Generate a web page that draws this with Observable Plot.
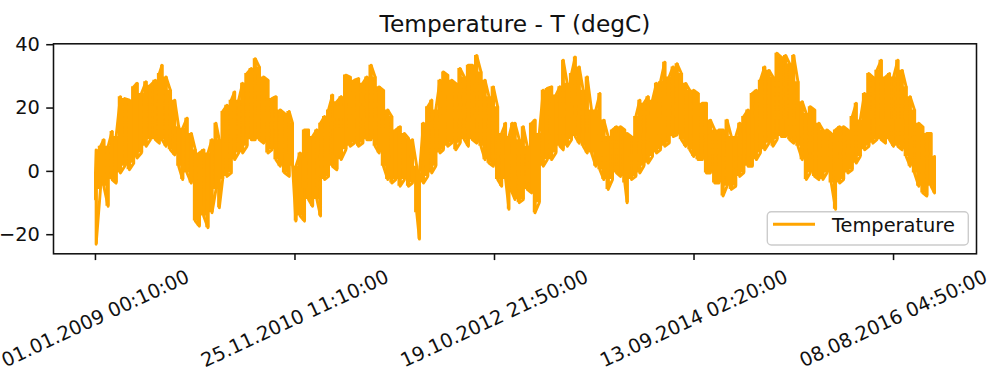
<!DOCTYPE html>
<html>
<head>
<meta charset="utf-8">
<script src="https://cdn.jsdelivr.net/npm/d3@7"></script>
<script src="https://cdn.jsdelivr.net/npm/@observablehq/plot@0.6"></script>
<style>
  html, body { margin: 0; padding: 0; background: white; }
  #chart { position: relative; width: 988px; height: 380px; }
  #legend { position: absolute; left: 766px; top: 210px; }
</style>
</head>
<body>
<div id="chart"></div>
<script>
const title = "Temperature - T (degC)";
const seriesName = "Temperature";

// x tick positions (sample index) and their labels
const xTicks = [0, 100000, 200000, 300000, 400000];
const xTickLabels = ["01.01.2009 00:10:00", "25.11.2010 11:10:00", "19.10.2012 21:50:00", "13.09.2014 02:20:00", "08.08.2016 04:50:00"];
const yTicks = [-20, 0, 20, 40];

// Envelope of the dense 10-minute temperature series:
// sample index, local maximum and local minimum (degC)
const sampleIdx = [0, 334, 2503, 4172, 6341, 8344, 10346, 12515, 14685, 17021,
  19190, 20859, 23028, 25364, 27534, 30037, 32039, 33374, 35376, 37546,
  39715, 41718, 43720, 45889, 48059, 50061, 52063, 54233, 56402, 58405,
  60407, 62076, 63744, 65914, 68083, 69752, 71754, 73757, 75926, 78095,
  80098, 82100, 84269, 86439, 88441, 90444, 92613, 94782, 97118, 98787,
  100456, 102625, 104794, 106797, 108799, 110969, 112804, 114807, 116809, 118811,
  120981, 123150, 125486, 127656, 129825, 131827, 133997, 135999, 138168, 140171,
  142173, 144343, 146512, 148514, 150517, 152686, 154855, 156858, 158860, 161030,
  162365, 164367, 166537, 168539, 170541, 172711, 174380, 176549, 178551, 180554,
  182723, 184892, 186894, 188897, 191066, 193235, 195238, 197240, 199410, 201579,
  203581, 205584, 207253, 208922,
  210253, 212422, 214425, 216427, 218597, 220265, 222435, 224437, 226439, 228609,
  230778, 232781, 234449, 236452, 238621, 240457, 242459, 244461, 246464, 248633,
  250802, 252805, 254807, 256977, 259146, 261148, 263151, 265320, 266488, 268658,
  270827, 272829, 274832, 277001, 279170, 281173, 283175, 285345, 287514, 289516,
  291519, 293688, 295857, 297860, 299862, 302032, 304201, 306203, 308206, 310375,
  312544, 314547, 316549, 318719, 320888, 322890, 324893, 327062, 329231, 331234,
  333236, 335406, 337575, 339577, 341580, 343749, 345918, 347921, 349923, 352093,
  354262, 356264, 358267, 360436, 362605, 364608, 366610, 368780, 370949, 372951,
  374954, 377123, 379292, 381295, 383297, 385467, 387636, 389638, 391641, 393810,
  395979, 397982, 399984, 402154, 404323, 406325, 408328, 410497, 412666, 414669,
  416671, 418841, 420550];

const tHigh = [-0.5, 6.8, 7.9, 10.0, 7.9, 12.6, 11.0, 23.6, 23.0, 22.5,
  26.7, 27.8, 24.6, 28.3, 27.2, 28.8, 30.9, 33.5, 29.8, 25.6,
  22.5, 14.1, 13.6, 16.8, 12.0, 6.8, 5.8, 6.8, 5.8, 10.0,
  15.2, 10.0, 18.9, 20.9, 22.5, 25.1, 22.5, 27.8, 30.9, 32.5,
  35.6, 33.0, 29.8, 28.8, 23.0, 23.6, 19.4, 18.3, 18.9, 15.2,
  1.6, 5.8, 13.1, 13.1, 11.0, 13.1, 15.2, 17.3, 19.4, 24.1,
  22.0, 23.6, 30.4, 29.8, 28.8, 29.3, 27.8, 29.8, 33.5, 29.8,
  26.7, 25.6, 19.4, 17.3, 13.1, 14.1, 12.0, 10.5, 10.0, 1.6,
  -0.5, 15.2, 20.4, 22.5, 19.4, 28.8, 31.4, 30.4, 28.8, 27.8,
  32.5, 29.8, 33.5, 33.5, 36.6, 31.4, 28.8, 23.6, 26.7, 20.4,
  12.0, 15.2, 11.0, 15.2,
  15.2, 10.0, 14.1, 7.9, 15.2, 16.2, 12.0, 25.6, 26.2, 26.7,
  24.1, 26.7, 35.1, 27.8, 30.9, 36.1, 33.0, 25.6, 29.8, 19.4,
  19.4, 24.6, 16.2, 11.0, 13.1, 14.1, 14.1, 13.1, 12.0, 11.0,
  17.3, 22.5, 21.5, 23.6, 22.5, 27.8, 28.3, 34.5, 29.8, 33.0,
  34.0, 30.9, 27.8, 25.6, 25.6, 24.6, 21.5, 21.5, 16.2, 13.1,
  13.1, 13.1, 16.2, 11.0, 11.0, 15.2, 17.3, 19.4, 24.6, 25.6,
  28.8, 33.0, 31.9, 29.8, 37.3, 36.1, 36.6, 34.0, 36.6, 28.3,
  22.0, 18.3, 20.4, 19.4, 15.2, 13.1, 13.1, 12.0, 13.1, 14.1,
  14.1, 13.1, 17.3, 21.5, 16.2, 24.6, 30.9, 29.8, 31.9, 35.1,
  29.8, 30.9, 29.8, 35.1, 31.9, 26.7, 23.6, 19.4, 15.2, 14.1,
  12.0, 12.0, 4.7];

const tLow = [-8.9, -23.0, -5.7, -4.7, -11.0, -2.6, -3.7, -0.5, 1.6, 0.5,
  2.6, 4.2, 5.8, 7.9, 10.0, 10.0, 8.9, 10.0, 7.9, 6.8,
  5.2, 1.6, -2.6, -0.5, -3.7, -15.7, -17.3, -14.1, -17.8, -13.1,
  -5.7, -11.5, -2.6, -1.6, -0.5, 3.7, 5.8, 5.8, 7.9, 10.0,
  10.0, 10.0, 8.9, 5.8, 6.8, 3.7, 1.6, -0.5, -1.6, 1.6,
  -15.7, -14.1, -15.7, -8.9, -11.0, -8.9, -14.1, -2.6, -1.6, 1.6,
  0.5, 3.7, 6.8, 7.9, 8.9, 7.9, 8.9, 10.0, 10.0, 7.9,
  5.8, 1.6, -2.6, -3.7, -2.6, -4.7, -2.6, -4.7, -3.7, -13.1,
  -21.4, -3.7, -1.6, -0.5, 1.6, 5.8, 6.8, 7.9, 8.9, 6.8,
  8.9, 10.0, 7.9, 10.0, 8.9, 7.9, 3.7, 2.6, 1.6, -2.6,
  -4.7, -2.6, -12.0, -6.8,
  -8.9, -9.9, -8.9, -5.7, -6.8, -13.1, -9.9, 1.6, 3.7, 3.7,
  5.8, 7.9, 6.8, 7.9, 10.0, 11.0, 8.9, 7.9, 5.8, 5.8,
  1.6, 0.5, -2.6, -5.7, -2.6, -0.5, -1.6, -3.7, -9.9, -2.6,
  -1.6, -0.5, 1.6, 2.6, 4.7, 5.8, 6.8, 7.9, 8.9, 11.0,
  11.5, 10.0, 7.9, 6.8, 4.7, 3.7, 3.7, -0.5, -0.5, -3.7,
  -3.7, -7.8, -4.7, -5.7, -4.7, -1.6, -0.5, 1.6, 1.6, 3.7,
  5.8, 6.8, 8.9, 7.9, 10.0, 11.0, 11.0, 10.0, 8.9, 7.9,
  3.7, -2.6, -0.5, -1.6, -2.6, -2.6, -0.5, -3.7, -12.0, -3.7,
  -2.6, -0.5, 0.5, 2.6, 4.7, 6.8, 7.9, 8.9, 10.0, 10.0,
  8.9, 10.0, 7.9, 7.9, 6.8, 4.7, 1.6, -0.5, -4.7, -6.8,
  -7.8, -4.7, -6.8];

const rows = sampleIdx.map((x, i) => ({x, hi: tHigh[i], lo: tLow[i]}));
// a single polyline that sweeps between the local minimum and maximum
const zig = rows.flatMap((r, i) => i % 2 === 0
  ? [{x: r.x, y: r.lo}, {x: r.x, y: r.hi}]
  : [{x: r.x, y: r.hi}, {x: r.x, y: r.lo}]);

const fmtY = d => d < 0 ? "\u2212" + Math.abs(d) : String(d);
const n = 420551;

const plot = Plot.plot({
  width: 988,
  height: 380,
  marginLeft: 53,
  marginRight: 12,
  marginTop: 43.3,
  marginBottom: 126.7,
  x: {domain: [-0.05 * n, 1.05 * n]},
  y: {domain: [-26.03, 40.29]},
  style: {fontFamily: "'DejaVu Sans', sans-serif", fontSize: "19.4px", color: "#111", background: "white"},
  marks: [
    Plot.areaY(rows, {x: "x", y1: "lo", y2: "hi", curve: "step", fill: "orange"}),
    Plot.line(zig, {x: "x", y: "y", stroke: "orange", strokeWidth: 2.9}),
    Plot.frame({stroke: "#111", strokeWidth: 1.55}),
    Plot.axisY({ticks: yTicks, tickSize: 6.8, tickPadding: 6.8, tickFormat: fmtY, label: null, strokeWidth: 1.55, fill: "#111"}),
    Plot.axisX({ticks: xTicks, tickSize: 6.8, tickFormat: () => "", label: null, strokeWidth: 1.55}),
    Plot.text(xTicks, {x: d => d, text: (d, i) => xTickLabels[i], frameAnchor: "bottom", rotate: -25, textAnchor: "middle", lineAnchor: "middle", dy: 65, fill: "#111"}),
    Plot.text([title], {frameAnchor: "top", lineAnchor: "bottom", dy: -12, fontSize: 23.3, fill: "#111"})
  ]
});

const chart = document.getElementById("chart");
chart.appendChild(plot);

// legend (matplotlib style, lower right inside the axes)
const lg = d3.select(chart).append("svg")
  .attr("id", "legend").attr("width", 206).attr("height", 38)
  .style("font-family", "'DejaVu Sans', sans-serif");
lg.append("rect").attr("x", 1.3).attr("y", 1.7).attr("width", 201).attr("height", 33.3).attr("rx", 4)
  .attr("fill", "white").attr("fill-opacity", 0.8).attr("stroke", "#cccccc").attr("stroke-width", 1.4);
lg.append("line").attr("x1", 7).attr("x2", 49).attr("y1", 14.3).attr("y2", 14.3)
  .attr("stroke", "orange").attr("stroke-width", 2.9);
lg.append("text").attr("x", 66).attr("y", 22.3).attr("font-size", 19.4).attr("fill", "#111").text(seriesName);
</script>
</body>
</html>
